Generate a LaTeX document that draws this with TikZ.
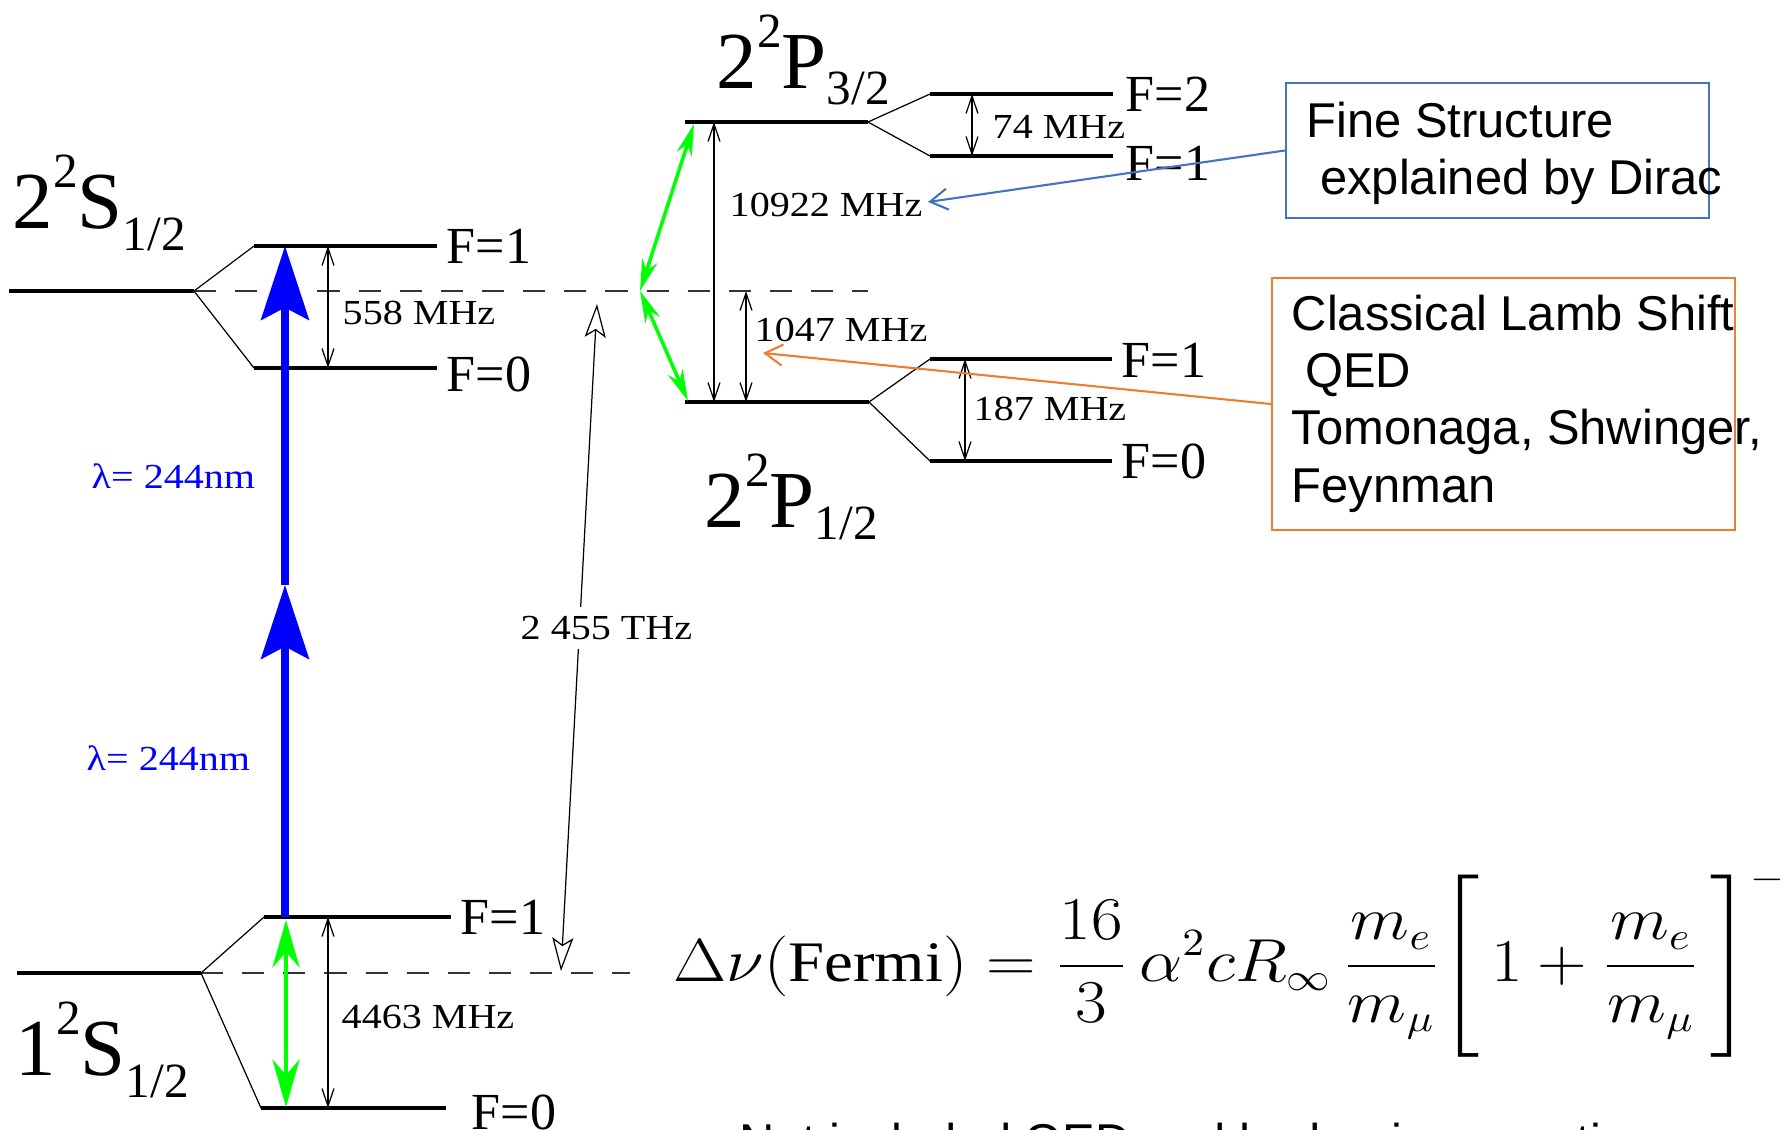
\documentclass[tikz,border=0pt]{standalone}
\usepackage{amsmath}
\usepackage{fontspec}
\setmainfont{Liberation Serif}
\newfontfamily\widerserif[FakeStretch=1.14]{Liberation Serif}
\newfontfamily\calloutsans{Liberation Sans}
\usetikzlibrary{arrows.meta, positioning}

\definecolor{fsblue}{HTML}{4472C4}
\definecolor{lsorange}{HTML}{ED7D31}

\newcommand{\supsize}{\fontsize{14}{14}\selectfont}
\newcommand{\lvlname}[5][0.28em]{#2\raisebox{0.5em}{\supsize #3}#4\raisebox{-#1}{\supsize #5}}

\begin{document}
\begin{tikzpicture}[
    x=0.01cm, y=-0.01cm,
    lvl/.style = {line width=1.4pt},
    splitline/.style = {line width=0.35pt},
    refline/.style = {dash pattern=on 6.3pt off 5.4pt, line width=0.45pt, black!80},
    hfsgap/.style = {{Straight Barb[length=5pt, width=3.4pt]}-{Straight Barb[length=5pt, width=3.4pt]}, line width=0.35pt},
    thzgap/.style = {{Stealth[open, length=9.5pt, width=6pt, inset=2pt]}-{Stealth[open, length=9.5pt, width=6pt, inset=2pt]}, line width=0.35pt},
    photon/.style = {-{Stealth[length=21pt, width=13.6pt, inset=3.5pt]}, blue, line width=2pt},
    pump/.style = {{Stealth[length=13.5pt, width=7.7pt]}-{Stealth[length=13.5pt, width=7.7pt]}, green, line width=1.4pt},
    pumpsm/.style = {{Stealth[length=9pt, width=4.5pt]}-{Stealth[length=9pt, width=4.5pt]}, green, line width=1pt},
    pointer/.style = {-{Straight Barb[length=5pt, width=6pt]}, line width=0.6pt},
    flbl/.style = {inner sep=0pt, anchor=west, font=\fontsize{14.8}{16}\selectfont},
    mhz/.style = {inner sep=0pt, anchor=west, font=\widerserif\fontsize{10}{12}\selectfont},
    termlbl/.style = {inner sep=0pt, anchor=base west, font=\fontsize{23}{24}\selectfont},
    notebox/.style = {draw, line width=0.6pt, rectangle},
    notetext/.style = {inner sep=0pt, align=left, anchor=north west, font=\calloutsans\fontsize{13.9}{16.3}\selectfont}]

    \useasboundingbox (0,0) rectangle (1785,1129);
    \clip (0,0) rectangle (1785,1129);

    % level end points
    \coordinate (s2L) at (9,291);    \coordinate (s2C) at (194,291);
    \coordinate (s2aL) at (254,246); \coordinate (s2aR) at (437,246);
    \coordinate (s2bL) at (254,368); \coordinate (s2bR) at (437,368);
    \coordinate (refR) at (868,291);
    \coordinate (s1L) at (17,973);   \coordinate (s1C) at (201,973);
    \coordinate (s1aL) at (264,917); \coordinate (s1aR) at (451,917);
    \coordinate (s1bL) at (261,1108); \coordinate (s1bR) at (446,1108);
    \coordinate (ref1R) at (630,973);
    \coordinate (p3L) at (685,122);  \coordinate (p3C) at (868,122);
    \coordinate (p3aL) at (930,94);  \coordinate (p3aR) at (1113,94);
    \coordinate (p3bL) at (930,156); \coordinate (p3bR) at (1113,156);
    \coordinate (p1L) at (685,402);  \coordinate (p1C) at (869,402);
    \coordinate (p1aL) at (930,359); \coordinate (p1aR) at (1112,359);
    \coordinate (p1bL) at (930,461); \coordinate (p1bR) at (1112,461);

    % arrow end points
    \coordinate (ph0) at (285,917); \coordinate (ph1) at (285,585); \coordinate (ph2) at (285,246);
    \coordinate (gr0) at (286,920); \coordinate (gr1) at (286,1107);
    \coordinate (grM) at (640,291); \coordinate (grT) at (694,124); \coordinate (grB) at (688,401);
    \coordinate (a558) at (328,246);   \coordinate (b558) at (328,368);
    \coordinate (a4463) at (328,917);  \coordinate (b4463) at (328,1108);
    \coordinate (a10922) at (714,122); \coordinate (b10922) at (714,402);
    \coordinate (a1047) at (746,291);  \coordinate (b1047) at (746,402);
    \coordinate (a74) at (972,94);     \coordinate (b74) at (972,156);
    \coordinate (a187) at (965,359);   \coordinate (b187) at (965,461);
    \coordinate (thzA) at (597,304);   \coordinate (thzB) at (561,971);
    \coordinate (fsTip) at (928,202);  \coordinate (lsTip) at (763,353);

    % centre of gravity lines
    \draw[refline] (s2C) -- (refR);
    \draw[refline] (s1C) -- (ref1R);

    % levels
    \draw[lvl] (s2L) -- (s2C);
    \draw[lvl] (s2aL) -- (s2aR);
    \draw[lvl] (s2bL) -- (s2bR);
    \draw[splitline] (s2aL) -- (s2C) -- (s2bL);
    \draw[lvl] (s1L) -- (s1C);
    \draw[lvl] (s1aL) -- (s1aR);
    \draw[lvl] (s1bL) -- (s1bR);
    \draw[splitline] (s1aL) -- (s1C) -- (s1bL);
    \draw[lvl] (p3L) -- (p3C);
    \draw[lvl] (p3aL) -- (p3aR);
    \draw[lvl] (p3bL) -- (p3bR);
    \draw[splitline] (p3aL) -- (p3C) -- (p3bL);
    \draw[lvl] (p1L) -- (p1C);
    \draw[lvl] (p1aL) -- (p1aR);
    \draw[lvl] (p1bL) -- (p1bR);
    \draw[splitline] (p1aL) -- (p1C) -- (p1bL);

    % state names
    \node[termlbl] (t2s) at (12,228) {\lvlname{2}{2}{S}{1/2}};
    \node[termlbl] (t1s) at (15,1075) {\lvlname{1}{2}{S}{1/2}};
    \node[termlbl] (t2p3) at (716,88) {\lvlname[0.2em]{2}{2}{P}{3/2}};
    \node[termlbl] (t2p1) at (704,527) {\lvlname[0.15em]{2}{2}{P}{1/2}};

    % F labels
    \node[flbl] (s2f1) at (446,246) {F=1};
    \node[flbl] (s2f0) at (446,374) {F=0};
    \node[flbl] (s1f1) at (460,917) {F=1};
    \node[flbl] (s1f0) at (471,1112) {F=0};
    \node[flbl] (p3f2) at (1125,94) {F=2};
    \node[flbl] (p3f1) at (1125,163) {F=1};
    \node[flbl] (p1f1) at (1121,360) {F=1};
    \node[flbl] (p1f0) at (1121,461) {F=0};

    % splittings
    \draw[hfsgap] (a558) -- (b558);
    \draw[hfsgap] (a4463) -- (b4463);
    \draw[hfsgap] (a10922) -- (b10922);
    \draw[hfsgap] (a1047) -- (b1047);
    \draw[hfsgap] (a74) -- (b74);
    \draw[hfsgap] (a187) -- (b187);
    \draw[thzgap] (thzA) -- (thzB);
    \node[mhz] (l558) at (342,313) {558 MHz};
    \node[mhz] (l4463) at (341,1017) {4463 MHz};
    \node[mhz] (l10922) at (729,205) {10922 MHz};
    \node[mhz] (l1047) at (754,330) {1047 MHz};
    \node[mhz] (l74) at (992,127) {74 MHz};
    \node[mhz] (l187) at (973,409) {187 MHz};
    \node[mhz, fill=white, inner ysep=2.5pt] (lthz) at (520,628) {2 455 THz};

    % laser transitions
    \draw[photon] (ph0) -- (ph1);
    \draw[photon] (ph1) -- (ph2);
    \node[mhz, text=blue] (lam1) at (91,476) {λ= 244nm};
    \node[mhz, text=blue] (lam2) at (86,758) {λ= 244nm};
    \draw[pump] (gr0) -- (gr1);
    \draw[pumpsm] (grM) -- (grT);
    \draw[pumpsm] (grM) -- (grB);

    % Fermi energy
    \node[inner sep=0pt, anchor=base west, font=\fontsize{16.3}{20}\selectfont] (fermi) at (673,981)
        {\scalebox{1.13}[1]{$\displaystyle \Delta\nu(\mathrm{Fermi}) = \frac{16}{3}\,\alpha^{2} c R_{\infty}\,\frac{m_e}{m_\mu}\Biggl[\,1+\frac{m_e}{m_\mu}\,\Biggr]^{-3}$}};
    \node[notetext, anchor=base west] (omitted) at (739,1158) {Not included QED and hadronic correction};

    % callouts
    \node[notebox, draw=fsblue, minimum width=4.23cm, minimum height=1.35cm] (fsbox) at (1497.5,150.5) {};
    \node[notetext] (fstext) at (1306,101) {Fine Structure\\\hspace*{0.278em}explained by Dirac};
    \node[notebox, draw=lsorange, minimum width=4.63cm, minimum height=2.52cm] (lsbox) at (1503.5,404) {};
    \node[notetext] (lstext) at (1291,294) {Classical Lamb Shift\\\hspace*{0.278em}QED\\Tomonaga, Shwinger,\\Feynman};
    \draw[pointer, fsblue] (fsbox.west) -- (fsTip);
    \draw[pointer, lsorange] (lsbox.west) -- (lsTip);
\end{tikzpicture}
\end{document}
